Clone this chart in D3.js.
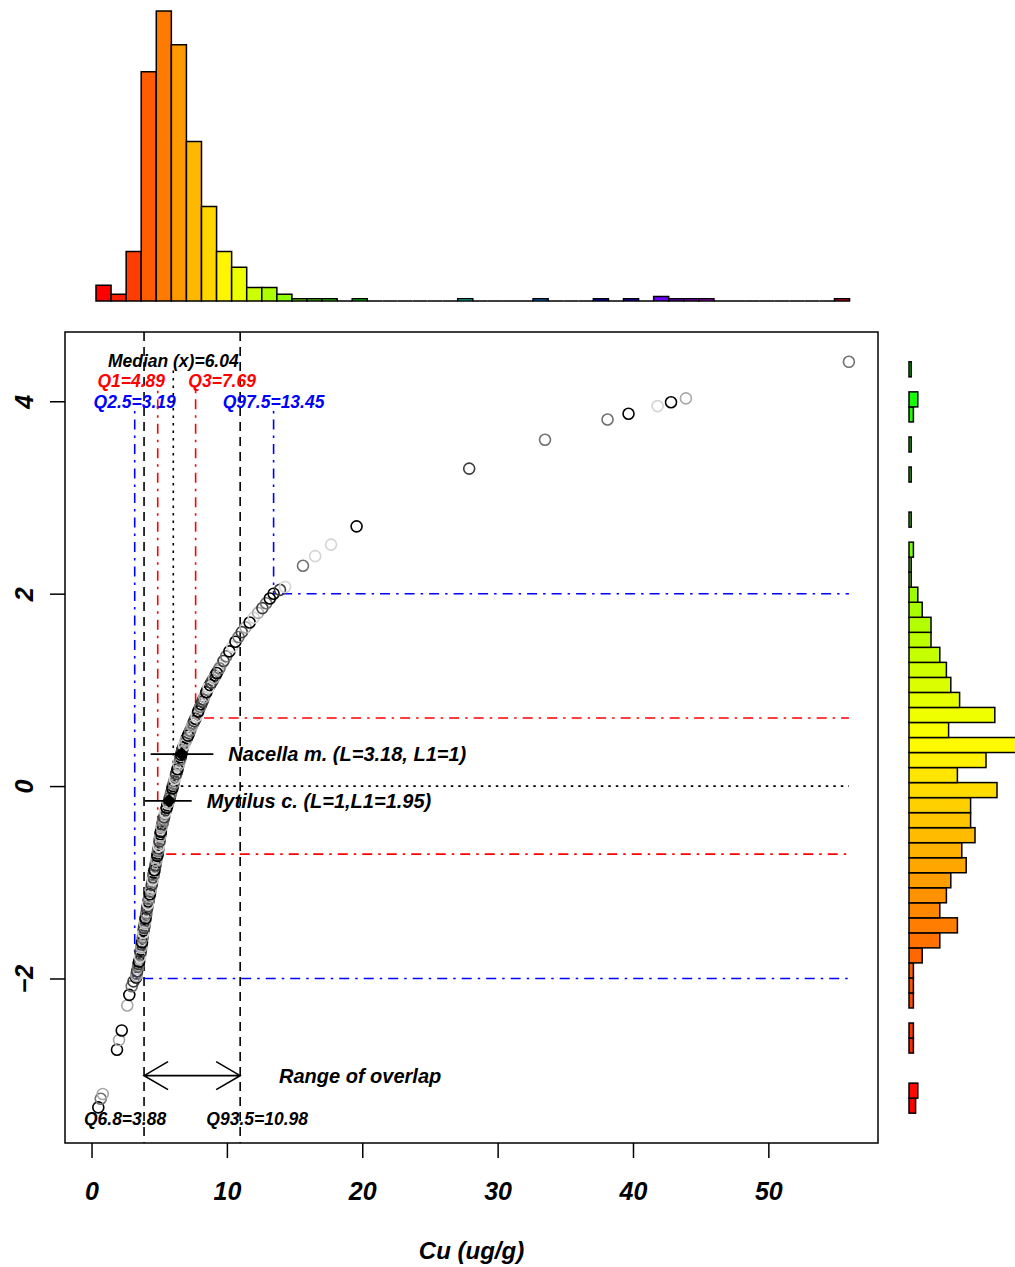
<!DOCTYPE html>
<html>
<head>
<meta charset="utf-8">
<script src="https://cdn.jsdelivr.net/npm/d3@7"></script>
<style>
  body { margin: 0; background: #fff; }
  text { font-family: "Liberation Sans", Arial, sans-serif; font-weight: bold; font-style: italic; }
</style>
</head>
<body>
<div id="chart"></div>
<script>
// ---- data ----
const xTicks = [0, 10, 20, 30, 40, 50]
const yTicks = [-2, 0, 2, 4]

// quantiles of Cu and the y level each guide line runs to
const qNames  = ['Q2.5', 'Q1', 'Median (x)', 'Q3', 'Q97.5']
const qValues = [3.19, 4.89, 6.04, 7.69, 13.45]
const qLevels = [-2, -0.707, 0, 0.707, 2]

// range of overlap
const ovNames  = ['Q6.8', 'Q93.5']
const ovValues = [3.88, 10.98]

// species markers
const spNames = ['Nacella m. (L=3.18, L1=1)', 'Mytilus c. (L=1,L1=1.95)']
const spX  = [6.66, 5.72]
const spY  = [0.333, -0.153]
const spLo = [4.37, 3.95]
const spHi = [9.0, 7.40]

// scatter points (Cu, score) + grey level index
const ptX = [0.50, 0.68, 0.83, 1.88, 2.03, 2.23, 2.64, 2.79, 2.97, 3.10,
  3.29, 3.33, 3.40, 3.47, 3.55, 3.60, 3.65, 3.70, 3.75, 3.80,
  3.85, 3.91, 3.96, 4.02, 4.07, 4.13, 4.20, 4.27, 4.34, 4.41,
  4.48, 4.55, 4.61, 4.68, 4.75, 4.82, 4.89, 4.94, 4.99, 5.04,
  5.09, 5.14, 5.22, 5.31, 5.40, 5.50, 5.60, 5.73, 5.82, 5.92,
  6.01, 6.10, 6.20, 6.30, 6.40, 6.49, 6.58, 6.65, 6.75, 6.90,
  7.05, 7.20, 7.35, 7.50, 7.67, 7.82, 7.95, 8.10, 8.25, 8.40,
  8.55, 8.75, 8.95, 9.15, 9.35, 9.55, 9.75, 9.95, 10.18, 10.40,
  10.63, 10.86, 11.10, 11.38, 11.68, 11.98, 12.30, 12.62, 12.90, 13.17,
  13.45, 13.92, 14.30,
  15.62, 16.52, 17.69, 19.58, 27.90, 33.50, 38.12, 39.67, 41.82, 42.81, 43.91, 55.95,
  3.31, 3.37, 3.44, 3.51, 3.58, 3.63, 3.68, 3.73, 3.78, 3.83,
  3.88, 3.94, 3.99, 4.05, 4.10, 4.17, 4.24, 4.31, 4.38, 4.45,
  4.52, 4.58, 4.65, 4.72, 4.79, 4.86, 4.92, 4.97, 5.02, 5.07,
  5.12, 5.18, 5.27, 5.36, 5.45, 5.55, 5.66, 5.78, 5.87, 5.97,
  6.06, 6.15, 6.25, 6.35, 6.45, 6.54, 6.62, 6.70, 6.83, 6.98,
  7.13, 7.28, 7.43, 7.58, 7.75, 7.88, 8.03, 8.18, 8.33, 8.48,
  8.65, 8.85, 9.05, 9.25, 9.45]
const ptY = [-3.34, -3.25, -3.20, -2.74, -2.64, -2.54, -2.28, -2.17, -2.08, -2.03,
  -1.99, -1.95, -1.90, -1.85, -1.80, -1.75, -1.70, -1.65, -1.60, -1.55,
  -1.50, -1.45, -1.40, -1.35, -1.30, -1.25, -1.20, -1.15, -1.10, -1.05,
  -1.00, -0.95, -0.90, -0.85, -0.80, -0.75, -0.70, -0.65, -0.60, -0.55,
  -0.50, -0.45, -0.40, -0.35, -0.30, -0.25, -0.20, -0.15, -0.10, -0.05,
  0.00, 0.05, 0.10, 0.15, 0.20, 0.25, 0.30, 0.35, 0.40, 0.45,
  0.50, 0.55, 0.60, 0.65, 0.70, 0.75, 0.80, 0.85, 0.90, 0.95,
  1.00, 1.05, 1.10, 1.15, 1.20, 1.25, 1.30, 1.35, 1.40, 1.45,
  1.50, 1.55, 1.60, 1.65, 1.70, 1.75, 1.80, 1.85, 1.90, 1.95,
  2.00, 2.04, 2.07,
  2.29, 2.39, 2.51, 2.70, 3.30, 3.60, 3.81, 3.87, 3.95, 3.99, 4.03, 4.41,
  -1.975, -1.925, -1.875, -1.825, -1.775, -1.725, -1.675, -1.625, -1.575, -1.525,
  -1.475, -1.425, -1.375, -1.325, -1.275, -1.225, -1.175, -1.125, -1.075, -1.025,
  -0.975, -0.925, -0.875, -0.825, -0.775, -0.725, -0.675, -0.625, -0.575, -0.525,
  -0.475, -0.425, -0.375, -0.325, -0.275, -0.225, -0.175, -0.125, -0.075, -0.025,
  0.025, 0.075, 0.125, 0.175, 0.225, 0.275, 0.325, 0.375, 0.425, 0.475,
  0.525, 0.575, 0.625, 0.675, 0.725, 0.775, 0.825, 0.875, 0.925, 0.975,
  1.025, 1.075, 1.125, 1.175, 1.225]
const ptShade = ('0230303021' + '0241320143' + '0123410324' + '2104330142' + '0412310234' +
  '0231440213' + '0142032014' + '2010341204' + '0213043120' + '014' +
  '244012204032' +
  '3120413024' + '1302142031' + '4201302413' + '0321403120' + '2410320143' +
  '0231402130' + '41302').split('').map(Number)

// top histogram of Cu (50 bins over the data range)
const topRange = [0.33, 56.0]
const topCounts = [7, 3, 22, 102, 129, 114, 71, 42, 22, 15,
  6, 6, 3, 1, 1, 1, 0, 1, 0, 0,
  0, 0, 0, 0, 1, 0, 0, 0, 0, 1,
  0, 0, 0, 1, 0, 1, 0, 2, 1, 1,
  1, 0, 0, 0, 0, 0, 0, 0, 0, 1]

// right histogram of the score (50 bins, bottom to top)
const rightRange = [-3.40, 4.41]
const rightCounts = [3, 4, 0, 0, 2, 2, 0, 2, 2, 2,
  6, 14, 22, 14, 17, 19, 26, 24, 30, 28,
  28, 40, 22, 35, 50, 18, 39, 23, 19, 17,
  14, 10, 10, 6, 4, 1, 1, 2, 0, 1,
  0, 0, 1, 0, 1, 0, 2, 4, 0, 1]

// ---- drawing ----
const W = 1015, H = 1267
const box = { left: 65, right: 878, top: 332, bottom: 1143 }
const greys = ['#000000', '#3c3c3c', '#707070', '#a8a8a8', '#d4d4d4']
const lty = { dashed: '9,6', dotted: '2.5,5', dashdot: '2.5,6,10,6' }

const svg = d3.select('#chart').append('svg')
    .attr('width', W)
    .attr('height', H)

const x = d3.scaleLinear().domain([-1.96, 58.1]).range([box.left, box.right])
const y = d3.scaleLinear().domain([-3.71, 4.72]).range([box.bottom, box.top])

// top histogram
const nTop = topCounts.length
const topW = (topRange[1] - topRange[0]) / nTop
const yTop = d3.scaleLinear().domain([0, 129]).range([301, 11])
svg.append('g').selectAll('path')
    .data(topCounts)
    .join('path')
      .attr('d', (c, i) => {
        const x0 = x(topRange[0] + i * topW), x1 = x(topRange[0] + (i + 1) * topW)
        return `M${x0},${yTop(0)}V${yTop(c)}H${x1}V${yTop(0)}Z`
      })
      .attr('fill', (c, i) => d3.hsl(i * 360 / nTop, 1, 0.5))
      .attr('stroke', '#000')
      .attr('stroke-width', 1.5)

// right histogram
const nRight = rightCounts.length
const rH = (rightRange[1] - rightRange[0]) / nRight
const xRight = d3.scaleLinear().domain([0, 50]).range([909, 1019])
svg.append('g').selectAll('rect')
    .data(rightCounts.map((c, i) => ({ c, i })).filter(d => d.c > 0))
    .join('rect')
      .attr('x', xRight(0))
      .attr('y', d => y(rightRange[0] + (d.i + 1) * rH))
      .attr('width', d => xRight(d.c) - xRight(0))
      .attr('height', d => y(rightRange[0]) - y(rightRange[0] + rH))
      .attr('fill', d => d3.hsl(d.i * 120 / (nRight - 1), 1, 0.5))
      .attr('stroke', '#000')
      .attr('stroke-width', 1.5)

// axes
const gx = svg.append('g').attr('transform', `translate(0,${box.bottom})`)
    .call(d3.axisBottom(x).tickValues(xTicks).tickSize(15).tickFormat(d3.format('d')))
gx.select('.domain').remove()
gx.selectAll('.tick line').attr('stroke', '#000').attr('stroke-width', 1.5)
gx.selectAll('.tick text').attr('y', 57).attr('dy', null).attr('fill', '#000').style('font-size', '25px')

const gy = svg.append('g').attr('transform', `translate(${box.left},0)`)
    .call(d3.axisLeft(y).tickValues(yTicks).tickSize(15).tickFormat(d3.format('d')))
gy.select('.domain').remove()
gy.selectAll('.tick line').attr('stroke', '#000').attr('stroke-width', 1.5)
gy.selectAll('.tick text')
    .attr('x', null).attr('dy', null)
    .attr('text-anchor', 'middle')
    .attr('transform', 'translate(-32,0) rotate(-90)')
    .attr('fill', '#000')
    .style('font-size', '25px')

svg.append('text')
    .attr('x', (box.left + box.right) / 2)
    .attr('y', 1259)
    .attr('text-anchor', 'middle')
    .style('font-size', '24px')
    .text('Cu (ug/g)')

// guide lines
const plot = svg.append('g')
const xMax = d3.max(ptX)
const qColor = ['#0000ff', '#ff0000', '#000000', '#ff0000', '#0000ff']
const qDash  = [lty.dashdot, lty.dashdot, lty.dotted, lty.dashdot, lty.dashdot]
const qRow   = [4.0, 4.21, 4.42, 4.21, 4.0]
const qShift = [0, -26.5, 0, 26.5, 0]

ovValues.forEach(v => {
  plot.append('line')
      .attr('x1', x(v)).attr('x2', x(v))
      .attr('y1', box.top).attr('y2', box.bottom)
      .attr('stroke', '#000').attr('stroke-width', 1.6)
      .attr('stroke-dasharray', lty.dashed)
})

qValues.forEach((v, i) => {
  plot.append('line')
      .attr('x1', x(v)).attr('x2', x(v))
      .attr('y1', y(qRow[i] - 0.1)).attr('y2', y(qLevels[i]))
      .attr('stroke', qColor[i]).attr('stroke-width', 1.6)
      .attr('stroke-dasharray', qDash[i])
  plot.append('line')
      .attr('x1', x(v)).attr('x2', x(xMax))
      .attr('y1', y(qLevels[i])).attr('y2', y(qLevels[i]))
      .attr('stroke', qColor[i]).attr('stroke-width', 1.6)
      .attr('stroke-dasharray', qDash[i])
  plot.append('text')
      .attr('x', x(v) + qShift[i])
      .attr('y', y(qRow[i]))
      .attr('dy', '0.36em')
      .attr('text-anchor', 'middle')
      .attr('fill', qColor[i])
      .style('font-size', '17.5px')
      .text(`${qNames[i]}=${v}`)
})

// overlap labels and arrow
const ovShift = [-19, 17]
ovValues.forEach((v, i) => {
  plot.append('text')
      .attr('x', x(v) + ovShift[i])
      .attr('y', y(-3.46))
      .attr('dy', '0.36em')
      .attr('text-anchor', 'middle')
      .style('font-size', '17.5px')
      .text(`${ovNames[i]}=${v}`)
})
const ay = y(-3.01), ax0 = x(ovValues[0]), ax1 = x(ovValues[1])
plot.append('path')
    .attr('d', `M${ax0},${ay}H${ax1}M${ax0 + 24},${ay - 14}L${ax0},${ay}L${ax0 + 24},${ay + 14}` +
      `M${ax1 - 24},${ay - 14}L${ax1},${ay}L${ax1 - 24},${ay + 14}`)
    .attr('fill', 'none').attr('stroke', '#000').attr('stroke-width', 1.6)
plot.append('text')
    .attr('x', 279).attr('y', ay).attr('dy', '0.36em')
    .style('font-size', '20px')
    .text('Range of overlap')

// scatter
plot.append('g').selectAll('circle')
    .data(ptX.map((v, i) => ({ x: v, y: ptY[i], s: ptShade[i] })))
    .join('circle')
      .attr('cx', d => x(d.x))
      .attr('cy', d => y(d.y))
      .attr('r', 5.5)
      .attr('fill', 'none')
      .attr('stroke', d => greys[d.s])
      .attr('stroke-width', 1.6)

// species markers
spNames.forEach((name, i) => {
  const cy = y(spY[i])
  plot.append('line')
      .attr('x1', x(spLo[i])).attr('x2', x(spHi[i]))
      .attr('y1', cy).attr('y2', cy)
      .attr('stroke', '#000').attr('stroke-width', 1.8)
  plot.append('path')
      .attr('d', `M${x(spX[i])},${cy - 7}l7,7l-7,7l-7,-7Z`)
      .attr('fill', '#000')
  plot.append('text')
      .attr('x', x(spHi[i]) + 15)
      .attr('y', cy).attr('dy', '0.36em')
      .style('font-size', '20px')
      .text(name)
})

// frame
svg.append('rect')
    .attr('x', box.left).attr('y', box.top)
    .attr('width', box.right - box.left).attr('height', box.bottom - box.top)
    .attr('fill', 'none').attr('stroke', '#000').attr('stroke-width', 1.5)
</script>
</body>
</html>
